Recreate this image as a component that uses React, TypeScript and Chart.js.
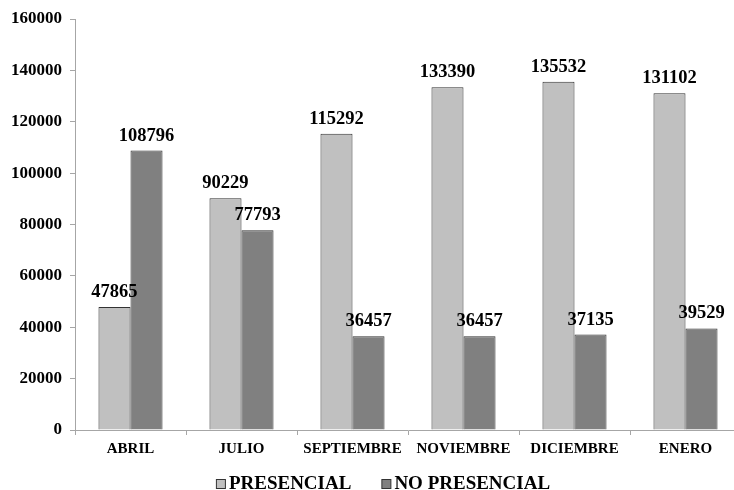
import { useEffect, useRef } from "react";
import { Chart, registerables } from "chart.js";

Chart.register(...registerables);

const categories = ["ABRIL", "JULIO", "SEPTIEMBRE", "NOVIEMBRE", "DICIEMBRE", "ENERO"];
const presencial = [47865, 90229, 115292, 133390, 135532, 131102];
const noPresencial = [108796, 77793, 36457, 36457, 37135, 39529];
const seriesNames = ["PRESENCIAL", "NO PRESENCIAL"];
const yMin = 0;
const yMax = 160000;
const yStep = 20000;

const SERIF = "'Liberation Serif', 'Times New Roman', serif";
const colors = ["#c0c0c0", "#808080"];

const dataLabels = {
  id: "dataLabels",
  afterDatasetsDraw(chart: any) {
    const ctx = chart.ctx;
    ctx.save();
    ctx.font = `bold 18.5px ${SERIF}`;
    ctx.fillStyle = "#000";
    ctx.textAlign = "center";
    ctx.textBaseline = "alphabetic";
    chart.data.datasets.forEach((ds: any, i: number) => {
      const meta = chart.getDatasetMeta(i);
      meta.data.forEach((el: any, j: number) => {
        ctx.fillText(String(ds.data[j]), el.x, el.y - 10);
      });
    });
    ctx.restore();
  },
};

const customLegend = {
  id: "customLegend",
  afterDraw(chart: any) {
    const ctx = chart.ctx;
    ctx.save();
    ctx.font = `bold 19px ${SERIF}`;
    ctx.textBaseline = "alphabetic";
    ctx.textAlign = "left";
    const box = 10;
    const gapText = 3;
    const gapItem = 30;
    const items = chart.data.datasets.map((ds: any) => ({
      text: ds.label,
      color: ds.backgroundColor,
      w: box + gapText + ctx.measureText(ds.label).width,
    }));
    const total = items.reduce((s: number, it: any) => s + it.w, 0) + gapItem * (items.length - 1);
    let x = chart.width / 2 + 3 - total / 2;
    const base = chart.height - 1;
    items.forEach((it: any) => {
      ctx.fillStyle = it.color;
      ctx.fillRect(x + 0.5, base - box + 0.5, box - 1, box - 1);
      ctx.strokeStyle = "#333";
      ctx.lineWidth = 1;
      ctx.strokeRect(x + 0.5, base - box + 0.5, box - 1, box - 1);
      ctx.fillStyle = "#000";
      ctx.fillText(it.text, x + box + gapText, base);
      x += it.w + gapItem;
    });
    ctx.restore();
  },
};

export default function App() {
  const ref = useRef<HTMLCanvasElement | null>(null);

  useEffect(() => {
    if (!ref.current) return;
    const chart = new Chart(ref.current, {
      type: "bar",
      data: {
        labels: categories,
        datasets: [
          {
            label: seriesNames[0],
            data: presencial,
            backgroundColor: colors[0],
            borderColor: "#333",
            borderWidth: 1,
            categoryPercentage: 0.577,
            barPercentage: 1,
          },
          {
            label: seriesNames[1],
            data: noPresencial,
            backgroundColor: colors[1],
            borderColor: "#333",
            borderWidth: 1,
            categoryPercentage: 0.577,
            barPercentage: 1,
          },
        ],
      },
      options: {
        responsive: false,
        animation: false,
        devicePixelRatio: 1,
        layout: { padding: { left: 0, right: 19, top: 19, bottom: 26 } },
        plugins: {
          legend: { display: false },
          tooltip: { enabled: false },
        },
        scales: {
          x: {
            grid: {
              display: true,
              drawOnChartArea: false,
              drawTicks: true,
              tickLength: 5,
              color: "#a6a6a6",
              offset: true,
            },
            border: { display: true, color: "#a6a6a6", width: 1 },
            ticks: {
              color: "#000",
              font: { family: SERIF, size: 15, weight: "bold" },
              padding: 5,
              maxRotation: 0,
              autoSkip: false,
            },
            afterFit: (scale: any) => {
              scale.height = 34;
            },
          },
          y: {
            min: yMin,
            max: yMax,
            grid: {
              display: true,
              drawOnChartArea: false,
              drawTicks: true,
              tickLength: 5,
              color: "#a6a6a6",
            },
            border: { display: true, color: "#a6a6a6", width: 1 },
            ticks: {
              stepSize: yStep,
              color: "#000",
              font: { family: SERIF, size: 17, weight: "bold" },
              padding: 8,
              callback: (v: any) => String(v),
            },
            afterFit: (scale: any) => {
              scale.width = 75;
            },
          },
        },
      },
      plugins: [dataLabels, customLegend],
    });
    return () => chart.destroy();
  }, []);

  return (
    <div
      style={{
        position: "fixed",
        left: 0,
        top: 0,
        width: 734,
        height: 490,
        overflow: "hidden",
        background: "#fff",
      }}
    >
      <canvas ref={ref} width={760} height={490} style={{ display: "block" }} />
    </div>
  );
}
